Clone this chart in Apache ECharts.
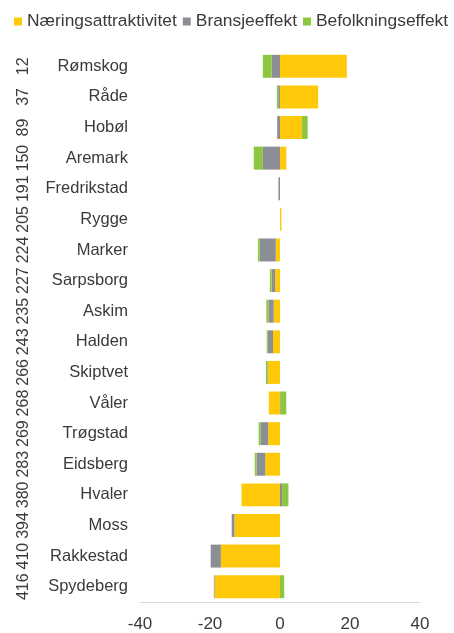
<!DOCTYPE html>
<html>
<head>
<meta charset="utf-8">
<script src="https://cdn.jsdelivr.net/npm/echarts@6/dist/echarts.min.js"></script>
<style>
html,body{margin:0;padding:0;background:#fff;}
#chart{width:454px;height:633px;}
</style>
</head>
<body>
<div id="chart"></div>
<script>
var categories = ['Rømskog','Råde','Hobøl','Aremark','Fredrikstad','Rygge','Marker','Sarpsborg','Askim','Halden','Skiptvet','Våler','Trøgstad','Eidsberg','Hvaler','Moss','Rakkestad','Spydeberg'];
var ranks = ['12','37','89','150','191','205','224','227','235','243','266','268','269','283','380','394','410','416'];
var naering =   [19.1, 10.9, 6.3, 1.8, 0, 0.4, -1.2, -1.4, -1.8, -2.0, -3.4, -3.2, -3.4, -4.2, -11.0, -13.0, -16.9, -18.7];
var bransje =   [-2.4, -0.5, -0.8, -4.9, -0.45, 0, -4.6, -1.0, -1.5, -1.5, -0.1, 0.2, -2.2, -2.5, 0.6, -0.8, -2.9, -0.2];
var befolkning = [-2.5, -0.4, 1.6, -2.6, 0, 0, -0.5, -0.5, -0.6, -0.3, -0.5, 1.6, -0.5, -0.5, 1.8, 0, 0, 1.2];
var xTicks = [-40, -20, 0, 20, 40];

var FONT = "'Liberation Sans', Arial, sans-serif";
var TXT = '#3a3a3a';
var chart = echarts.init(document.getElementById('chart'));
function ser(name, data, color) {
  return {
    name: name, type: 'bar', stack: 'total', data: data,
    barCategoryGap: '25%',
    itemStyle: { color: color },
    emphasis: { disabled: true }
  };
}
chart.setOption({
  animation: false,
  textStyle: { fontFamily: FONT },
  legend: {
    left: 14, top: 13, padding: 0, width: 440,
    itemWidth: 8, itemHeight: 8, itemGap: 6, icon: 'rect',
    textStyle: { fontSize: 17.4, color: TXT, fontFamily: FONT },
    data: ['Næringsattraktivitet', 'Bransjeeffekt', 'Befolkningseffekt']
  },
  grid: { left: 140, right: 34, top: 51, bottom: 31, containLabel: false },
  xAxis: {
    type: 'value', min: xTicks[0], max: xTicks[xTicks.length - 1], interval: 20,
    axisLine: { show: true, lineStyle: { color: '#d9d9d9', width: 1 } },
    axisTick: { show: false },
    splitLine: { show: false },
    axisLabel: { fontSize: 17, color: TXT, margin: 14, fontFamily: FONT }
  },
  yAxis: [
    {
      type: 'category', data: categories, inverse: true, position: 'left',
      axisLine: { show: false }, axisTick: { show: false },
      axisLabel: { interval: 0, fontSize: 16.5, color: TXT, margin: 12, fontFamily: FONT }
    },
    {
      type: 'category', data: ranks, inverse: true, position: 'left', offset: 100,
      axisLine: { show: false }, axisTick: { show: false },
      axisLabel: { interval: 0, fontSize: 16, color: TXT, margin: 8, rotate: 90, fontFamily: FONT }
    }
  ],
  series: [
    ser('Næringsattraktivitet', naering, '#FFC90A'),
    ser('Bransjeeffekt', bransje, '#8C8E96'),
    ser('Befolkningseffekt', befolkning, '#8DC641')
  ]
});
</script>
</body>
</html>
